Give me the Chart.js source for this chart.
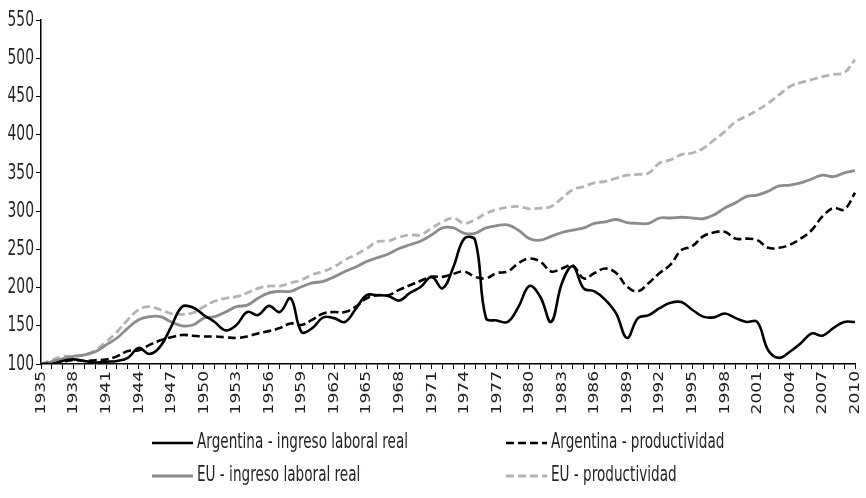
<!DOCTYPE html>
<html>
<head>
<meta charset="utf-8">
<script src="https://cdn.jsdelivr.net/npm/chart.js@4.4.1/dist/chart.umd.min.js"></script>
<style>
  html, body { margin: 0; padding: 0; background: #fff; }
  #wrap { width: 866px; height: 498px; }
</style>
</head>
<body>
<div id="wrap"><canvas id="myChart"></canvas></div>
<script>
// años 1935..2010
const years = [];
for (let y = 1935; y <= 2010; y++) years.push(String(y));

const argIngreso = [
  100, 100, 104, 106, 104, 102, 103, 104, 108, 121,
  113, 123, 149, 175, 174, 164, 155, 144, 151, 168,
  164, 176, 168, 186, 142, 147, 161, 160, 155, 172,
  190, 190, 189, 183, 193, 201, 214, 199, 227, 264,
  262, 160, 157, 155, 175, 202, 188, 155, 206, 228,
  199, 195, 184, 166, 134, 160, 164, 173, 180, 181,
  171, 162, 161, 166, 160, 155, 155, 118, 108, 116,
  127, 140, 137, 147, 155, 155
];
const argProd = [
  100, 100, 103, 105, 104, 105, 106, 110, 117, 118,
  125, 131, 135, 138, 137, 136, 136, 135, 134, 136,
  140, 143, 147, 153, 151, 158, 166, 168, 168, 175,
  186, 190, 190, 197, 203, 209, 214, 214, 218, 221,
  214, 212, 219, 221, 232, 238, 234, 221, 225, 229,
  212, 219, 225, 219, 201, 195, 206, 219, 230, 249,
  254, 267, 272, 273, 264, 264, 262, 252, 252, 256,
  264, 275, 293, 304, 302, 324
];
const euIngreso = [
  100, 103, 107, 110, 112, 116, 125, 134, 147, 158,
  162, 162, 155, 150, 151, 160, 162, 168, 175, 177,
  186, 193, 195, 195, 201, 206, 208, 214, 221, 227,
  234, 239, 244, 251, 256, 261, 269, 278, 278, 271,
  271, 278, 281, 282, 275, 264, 262, 267, 272, 275,
  278, 284, 286, 289, 285, 284, 284, 291, 291, 292,
  291, 290, 295, 304, 311, 319, 321, 326, 333, 334,
  337, 342, 347, 345, 350, 353
];
const euProd = [
  100, 105, 110, 110, 112, 118, 129, 142, 158, 171,
  175, 171, 166, 165, 167, 175, 182, 186, 188, 193,
  199, 202, 202, 206, 210, 217, 221, 227, 236, 243,
  251, 260, 261, 266, 269, 269, 278, 286, 291, 284,
  289, 297, 302, 305, 306, 303, 304, 306, 317, 328,
  332, 337, 339, 343, 347, 348, 350, 363, 367, 374,
  376, 382, 393, 404, 417, 424, 432, 441, 452, 463,
  468, 472, 476, 479, 481, 498
];

const FONT = '"Liberation Sans Narrow", "DejaVu Sans Condensed", "Arial Narrow", sans-serif';
Chart.defaults.font.family = FONT;
const TEXT_COLOR = "#231f20";

// texto angosto: la fuente original es muy condensada, se comprime el ancho
function narrowText(ctx, text, x, y, size, squeeze, align, rotated) {
  ctx.save();
  ctx.translate(x, y);
  if (rotated) {
    ctx.rotate(-Math.PI / 2);
    ctx.scale(1, squeeze);
  } else {
    ctx.scale(squeeze, 1);
  }
  ctx.font = size + "px " + FONT;
  ctx.fillStyle = TEXT_COLOR;
  ctx.textAlign = align;
  ctx.textBaseline = "middle";
  ctx.fillText(text, 0, 0);
  ctx.restore();
}

// etiquetas de los ejes
const axisLabelsPlugin = {
  id: "axisLabels",
  afterDraw(chart) {
    const ys = chart.scales.y;
    ys.ticks.forEach((t) => {
      narrowText(chart.ctx, String(t.value), ys.right - 7, ys.getPixelForValue(t.value), 22, 0.7, "right", false);
    });
    const xs = chart.scales.x;
    xs.ticks.forEach((t, i) => {
      if (i % 3 !== 0) return;
      narrowText(chart.ctx, years[i], xs.getPixelForTick(i), xs.top + 7, 19, 0.78, "right", true);
    });
  },
};

// leyenda en dos columnas
const legendPos = [
  { x: 152, y: 443 },
  { x: 506, y: 443 },
  { x: 152, y: 476 },
  { x: 506, y: 476 },
];
const legendPlugin = {
  id: "twoColLegend",
  afterDraw(chart) {
    const ctx = chart.ctx;
    chart.data.datasets.forEach((ds, i) => {
      const p = legendPos[i];
      ctx.save();
      ctx.strokeStyle = ds.borderColor;
      ctx.lineWidth = ds.borderWidth;
      ctx.setLineDash(ds.borderDash || []);
      ctx.beginPath();
      ctx.moveTo(p.x, p.y);
      ctx.lineTo(p.x + 41, p.y);
      ctx.stroke();
      ctx.restore();
      narrowText(ctx, ds.label, p.x + 45, p.y, 21, 0.72, "left", false);
    });
  },
};

const ctx = document.getElementById("myChart").getContext("2d");
const myChart = new Chart(ctx, {
  type: "line",
  data: {
    labels: years,
    datasets: [
      {
        label: "Argentina - ingreso laboral real",
        data: argIngreso,
        borderColor: "#000000",
        borderWidth: 2.6,
      },
      {
        label: "Argentina - productividad",
        data: argProd,
        borderColor: "#000000",
        borderWidth: 2.6,
        borderDash: [8, 4],
      },
      {
        label: "EU - ingreso laboral real",
        data: euIngreso,
        borderColor: "#8c8c8c",
        borderWidth: 2.8,
      },
      {
        label: "EU - productividad",
        data: euProd,
        borderColor: "#b3b3b3",
        borderWidth: 2.8,
        borderDash: [8, 4],
      },
    ],
  },
  options: {
    responsive: true,
    maintainAspectRatio: false,
    animation: false,
    layout: { padding: { top: 20, right: 11, left: 0, bottom: 0 } },
    elements: {
      point: { radius: 0 },
      line: { tension: 0.4, fill: false },
    },
    plugins: {
      legend: { display: false },
      tooltip: { enabled: false },
    },
    scales: {
      x: {
        offset: false,
        grid: {
          drawOnChartArea: false,
          drawTicks: true,
          tickLength: 5,
          color: "#000",
          offset: false,
        },
        border: { color: "#000", width: 1.5 },
        ticks: { autoSkip: false, display: false },
        afterFit: (scale) => {
          scale.height = 134;
        },
      },
      y: {
        min: 100,
        max: 550,
        ticks: { stepSize: 50, display: false },
        grid: {
          drawOnChartArea: false,
          drawTicks: true,
          tickLength: 5,
          color: "#000",
        },
        border: { color: "#000", width: 1.5 },
        afterFit: (scale) => {
          scale.width = 41;
        },
      },
    },
  },
  plugins: [axisLabelsPlugin, legendPlugin],
});
</script>
</body>
</html>
